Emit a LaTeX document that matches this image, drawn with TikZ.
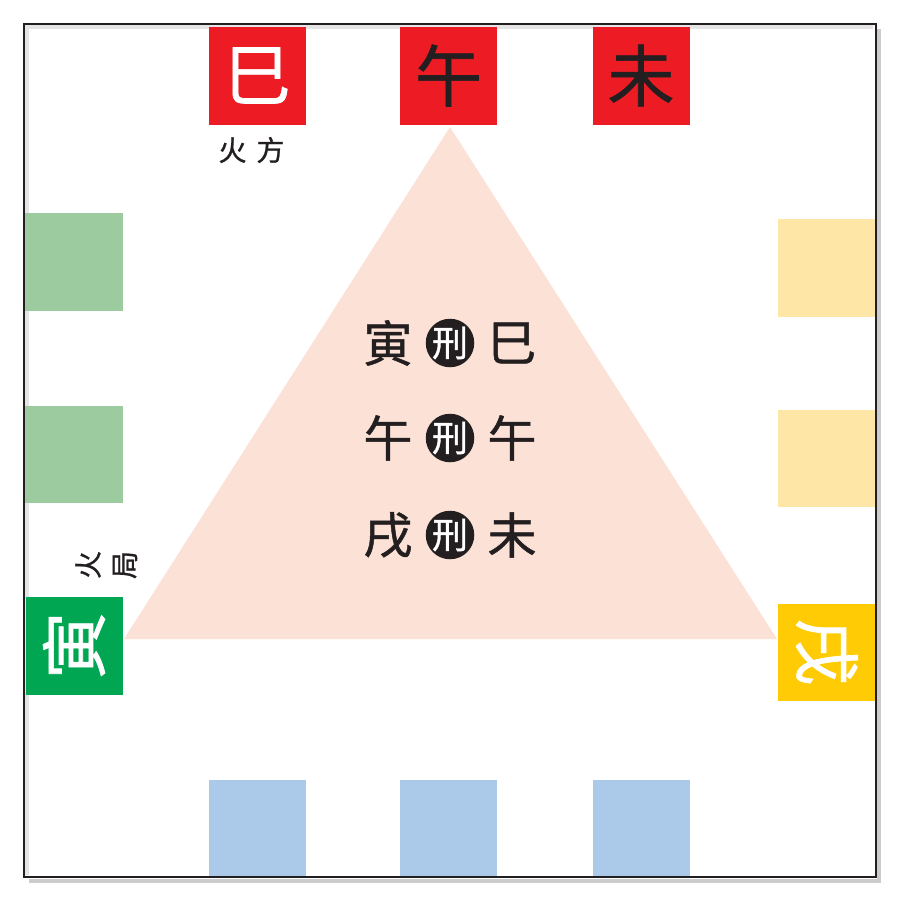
\documentclass[tikz,border=0pt]{standalone}
\usepackage{fontspec}
\newfontfamily\cjk{Noto Sans CJK SC}[FakeBold=1.0]
\definecolor{zred}{HTML}{ED1C24}
\definecolor{zgreen}{HTML}{00A651}
\definecolor{zlgreen}{HTML}{9BCB9F}
\definecolor{zyellow}{HTML}{FFCB05}
\definecolor{zlyellow}{HTML}{FEE6A6}
\definecolor{zlblue}{HTML}{ABC9E8}
\definecolor{ztri}{HTML}{FCE1D6}
\definecolor{zink}{HTML}{231F20}
\tikzset{
  x=1pt, y=-1pt,
  sq/.style={minimum width=97pt, minimum height=98pt, inner sep=0pt, outer sep=0pt, font=\cjk\fontsize{67}{67}\selectfont},
  big/.style={inner sep=0pt, text=zink, font=\cjk\fontsize{49}{49}\selectfont},
  xing/.style={circle, fill=zink, text=white, minimum size=45pt, inner sep=0pt, font=\cjk\fontsize{36}{36}\selectfont},
  lbl/.style={inner sep=0pt, text=zink, font=\cjk\fontsize{28}{28}\selectfont}
}
\begin{document}
\begin{tikzpicture}
\useasboundingbox (0,0) rectangle (902,902);
\fill[white] (0,0) rectangle (902,902);
% shadows
\draw[line width=4pt, black!20] (879,29) -- (879,881) -- (29,881);
\draw[line width=4pt, black!10] (27,875) -- (27,27) -- (873,27);
% triangle
\coordinate (apex) at (450,127);
\coordinate (bl) at (124,639);
\coordinate (br) at (777,639);
\fill[ztri] (apex) -- (bl) -- (br) -- cycle;
% top
\node[sq, fill=zred, text=white] (si) at (257.5,75.5) {巳};
\node[sq, fill=zred, text=zink] (wu) at (448.5,75.5) {午};
\node[sq, fill=zred, text=zink] (wei) at (641,75.5) {未};
% left
\node[sq, fill=zlgreen, minimum width=98pt] (l1) at (74,262) {};
\node[sq, fill=zlgreen, minimum width=98pt, minimum height=97pt] (l2) at (74,454.5) {};
\node[sq, fill=zgreen, text=white, minimum width=98pt, minimum height=97pt, rotate=90] (yin) at (74,645.5) {寅};
% right
\node[sq, fill=zlyellow] (r1) at (826.5,268) {};
\node[sq, fill=zlyellow, minimum height=97pt] (r2) at (826.5,458.5) {};
\node[sq, fill=zyellow, text=white, rotate=-90] (xu) at (826.5,652) {戌};
% bottom
\node[sq, fill=zlblue, minimum height=97pt] (b1) at (257.5,828.5) {};
\node[sq, fill=zlblue, minimum height=97pt] (b2) at (448.5,828.5) {};
\node[sq, fill=zlblue, minimum height=97pt] (b3) at (641,828.5) {};
% labels
\node[lbl] (huofang) at (251.5,150) {火\hspace{10pt}方};
\node[lbl, rotate=90] (huo) at (88,565) {火};
\node[lbl, rotate=90] (ju) at (125,565) {局};
% center rows
\node[big] (a1) at (388,343) {寅};
\node[xing] (x1) at (450,343) {刑};
\node[big] (c1) at (512,343) {巳};
\node[big] (a2) at (388,438) {午};
\node[xing] (x2) at (450,438) {刑};
\node[big] (c2) at (512,438) {午};
\node[big] (a3) at (388,535) {戌};
\node[xing] (x3) at (450,535) {刑};
\node[big] (c3) at (512,535) {未};
% frame
\draw[line width=2pt, zink] (24,24) rectangle (876,877);
\end{tikzpicture}
\end{document}
